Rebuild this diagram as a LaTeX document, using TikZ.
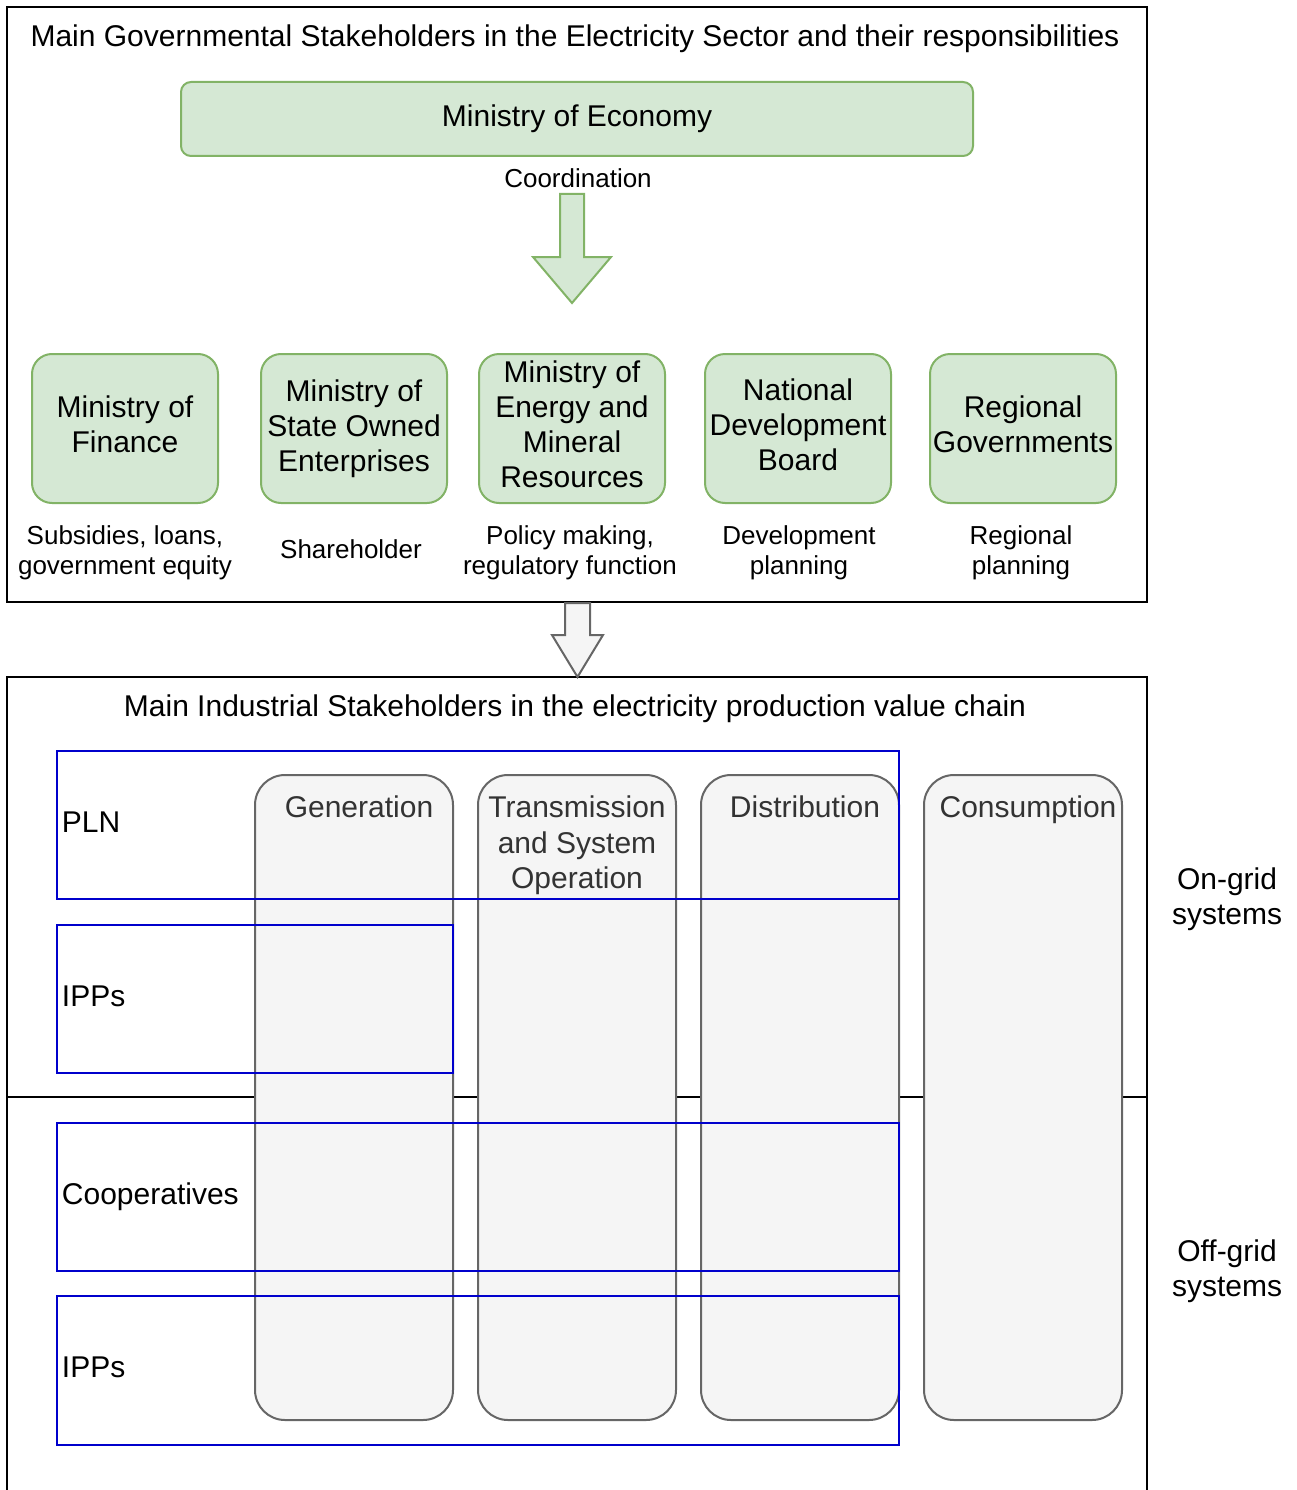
\documentclass[tikz,border=0pt]{standalone}
\usepackage{fontspec}
\setmainfont{Liberation Sans}
\usetikzlibrary{calc}
\definecolor{gfill}{HTML}{D5E8D4}
\definecolor{gline}{HTML}{82B366}
\definecolor{cfill}{HTML}{F5F5F5}
\definecolor{cline}{HTML}{666666}
\definecolor{ctext}{HTML}{333333}
\definecolor{bline}{HTML}{0000CC}
\tikzset{
  outerframe/.style={draw=black, line width=2pt},
  bigtext/.style={font=\fontsize{30}{35}\selectfont, align=center, inner sep=0pt},
  smalltext/.style={font=\fontsize{26}{30}\selectfont, align=center, inner sep=0pt},
  govbox/.style={draw=gline, fill=gfill, line width=2pt, rounded corners=20pt,
    minimum width=186pt, minimum height=149pt, inner sep=0pt, align=center,
    font=\fontsize{30}{35}\selectfont},
  column/.style={draw=cline, fill=cfill, line width=2pt, rounded corners=30pt,
    minimum width=198pt, minimum height=645pt, inner sep=0pt},
  coltext/.style={font=\fontsize{30}{35.5}\selectfont, align=center, inner sep=0pt, text=ctext},
  rowbox/.style={draw=bline, line width=2.5pt, minimum height=148pt, inner sep=0pt},
  rowtext/.style={font=\fontsize{30}{35}\selectfont, anchor=west, inner sep=0pt},
  fatarrow/.style={line width=2pt, line join=miter},
}
\begin{document}
\begin{tikzpicture}[x=1pt,y=-1pt]
\useasboundingbox (0,0) rectangle (1297,1490);

% upper panel: governmental stakeholders
\draw[outerframe] (7,7) rectangle (1147,602);
\coordinate (govbot) at (577.5,602);
\node[bigtext] (govtitle) at (575,39) {Main Governmental Stakeholders in the Electricity Sector and their responsibilities};

\node[govbox, rounded corners=10pt, minimum width=792pt, minimum height=74pt] (econ) at (577,119) {Ministry of Economy};
\node[smalltext] (coord) at (578,178) {Coordination};

% coordination arrow
\coordinate (ga) at (572,194);
\draw[fatarrow, draw=gline, fill=gfill]
  ($(ga)+(-12,0)$) -- ($(ga)+(12,0)$) -- ($(ga)+(12,63)$) -- ($(ga)+(39,63)$)
  -- ($(ga)+(0,109)$) -- ($(ga)+(-39,63)$) -- ($(ga)+(-12,63)$) -- cycle;

% ministries and boards, text lifted slightly above the box centre
\node[govbox, text depth=8pt] (fin) at (125,428.5) {Ministry of\\Finance};
\node[govbox] (soe) at (354,428.5) {Ministry of\\State Owned\\Enterprises};
\node[govbox, text depth=8pt] (emr) at (572,428.5) {Ministry of\\Energy and\\Mineral\\Resources};
\node[govbox, text depth=7pt] (ndb) at (798,428.5) {National\\Development\\Board};
\node[govbox, text depth=8pt] (reg) at (1023,428.5) {Regional\\Governments};

\node[smalltext] (finr) at (125,553) {Subsidies, loans,\\government equity};
\node[smalltext] (soer) at (351,549) {Shareholder};
\node[smalltext] (emrr) at (570,553) {Policy making,\\regulatory function};
\node[smalltext] (ndbr) at (799,553) {Development\\planning};
\node[smalltext] (regr) at (1021,553) {Regional\\planning};

% lower panel: industrial stakeholders
\draw[outerframe] (7,1492) -- (7,677) -- (1147,677) -- (1147,1492);
\coordinate (indtop) at (577.5,677);
\node[bigtext] (indtitle) at (575,709) {Main Industrial Stakeholders in the electricity production value chain};

% arrow between the panels
\draw[fatarrow, draw=cline, fill=cfill]
  ($(govbot)+(-12.5,1)$) -- ($(govbot)+(12.5,1)$) -- ($(govbot)+(12.5,33)$) -- ($(govbot)+(25.5,33)$)
  -- (indtop) -- ($(govbot)+(-25.5,33)$) -- ($(govbot)+(-12.5,33)$) -- cycle;

% on-grid / off-grid divider
\coordinate (divl) at (7,1097);
\coordinate (divr) at (1147,1097);
\draw[line width=2pt] (divl) -- (divr);

% value chain columns
\node[column] (gen) at (354,1097.5) {};
\node[column] (tra) at (577,1097.5) {};
\node[column] (dis) at (800,1097.5) {};
\node[column] (con) at (1023,1097.5) {};
\node[coltext] (gent) at (359,807) {Generation};
\node[coltext] (trat) at (577,845.5) {Transmission\\and System\\Operation};
\node[coltext] (dist) at (805,807) {Distribution};
\node[coltext] (cont) at (1028,810) {Consumption};

% stakeholder rows
\node[rowbox, minimum width=842pt] (pln) at (478,825) {};
\node[rowbox, minimum width=396pt] (ipp1) at (255,999) {};
\node[rowbox, minimum width=842pt] (coop) at (478,1197) {};
\node[rowbox, minimum width=842pt, minimum height=149pt] (ipp2) at (478,1370.5) {};
\node[rowtext] (plnt) at ($(pln.west)+(6,-3)$) {PLN};
\node[rowtext] (ipp1t) at ($(ipp1.west)+(6,-3)$) {IPPs};
\node[rowtext] (coopt) at ($(coop.west)+(6,0)$) {Cooperatives};
\node[rowtext] (ipp2t) at ($(ipp2.west)+(6,-3)$) {IPPs};

\node[bigtext] (ongrid) at (1227,899.5) {On-grid\\systems};
\node[bigtext] (offgrid) at (1227,1271) {Off-grid\\systems};
\end{tikzpicture}
\end{document}
